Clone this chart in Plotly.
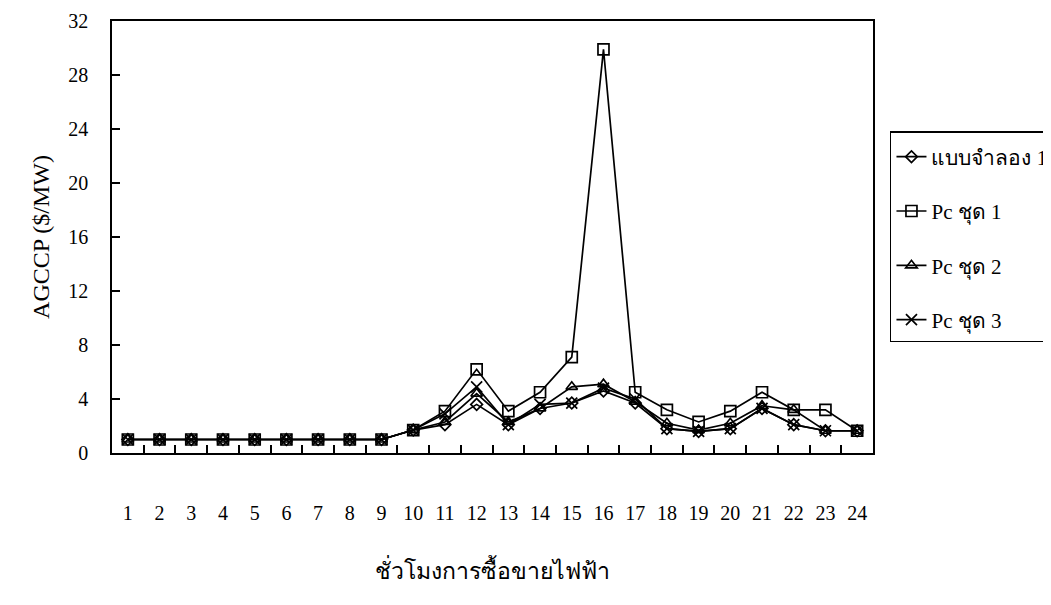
import plotly.graph_objects as go

hours = [str(h) for h in range(1, 25)]

model1 = [1.0, 1.0, 1.0, 1.0, 1.0, 1.0, 1.0, 1.0, 1.0, 1.7, 2.1, 3.6, 2.1, 3.3, 3.7, 4.6, 3.7, 1.8, 1.6, 1.8, 3.3, 2.1, 1.65, 1.65]
pc1 = [1.0, 1.0, 1.0, 1.0, 1.0, 1.0, 1.0, 1.0, 1.0, 1.7, 3.1, 6.2, 3.1, 4.5, 7.1, 29.9, 4.5, 3.2, 2.3, 3.1, 4.5, 3.2, 3.2, 1.65]
pc2 = [1.0, 1.0, 1.0, 1.0, 1.0, 1.0, 1.0, 1.0, 1.0, 1.7, 2.3, 4.4, 2.3, 3.3, 4.9, 5.1, 3.8, 2.2, 1.7, 2.2, 3.5, 3.2, 1.65, 1.65]
pc3 = [1.0, 1.0, 1.0, 1.0, 1.0, 1.0, 1.0, 1.0, 1.0, 1.7, 2.9, 4.9, 2.1, 3.6, 3.7, 4.8, 4.0, 1.8, 1.6, 1.8, 3.3, 2.1, 1.65, 1.65]

series_names = ["แบบจำลอง 1", "Pc ชุด 1", "Pc ชุด 2", "Pc ชุด 3"]
series_values = [model1, pc1, pc2, pc3]
symbols = ["diamond-open", "square-open", "triangle-up-open", "x-thin-open"]
sizes = [9, 11, 10, 11]

FONT = "Liberation Serif"

fig = go.Figure()
for i, (name, vals) in enumerate(zip(series_names, series_values)):
    fig.add_trace(go.Scatter(
        x=hours, y=vals, name=name, mode="lines+markers",
        legendgroup=f"g{i}",
        line=dict(color="black", width=1.7),
        marker=dict(symbol=symbols[i], size=sizes[i], color="black",
                    line=dict(color="black", width=1.7)),
    ))

fig.update_layout(
    width=1051, height=605,
    margin=dict(l=104, r=186, t=13, b=160, autoexpand=False),
    paper_bgcolor="white", plot_bgcolor="white",
    font=dict(family=FONT, size=20, color="black"),
    showlegend=True,
    legend=dict(
        x=1.0223, y=0.745, xanchor="left", yanchor="top",
        bordercolor="black", borderwidth=1.5,
        font=dict(family=FONT, size=21, color="black"),
        tracegroupgap=24, itemwidth=30,
        title=dict(text=" ", font=dict(family=FONT, size=3)),
    ),
    xaxis=dict(
        type="category", range=[-0.5, 23.5],
        tickson="boundaries", ticks="inside", ticklen=8,
        tickcolor="black", tickwidth=1.5, tickangle=0,
        showline=True, linecolor="black", linewidth=1.5, mirror=True,
        showgrid=False, zeroline=False, ticklabelstandoff=41,
        tickfont=dict(family=FONT, size=20),
        title=dict(text="ชั่วโมงการซื้อขายไฟฟ้า", font=dict(family=FONT, size=23), standoff=40),
    ),
    yaxis=dict(
        range=[0, 32], dtick=4, ticks="inside", ticklen=8,
        tickcolor="black", tickwidth=1.5,
        showline=True, linecolor="black", linewidth=1.5, mirror=True,
        showgrid=False, zeroline=False, ticklabelstandoff=18,
        tickfont=dict(family=FONT, size=20),
        title=dict(text="AGCCP ($/MW)", font=dict(family=FONT, size=24), standoff=12),
    ),
)

fig.write_html("out.html")
